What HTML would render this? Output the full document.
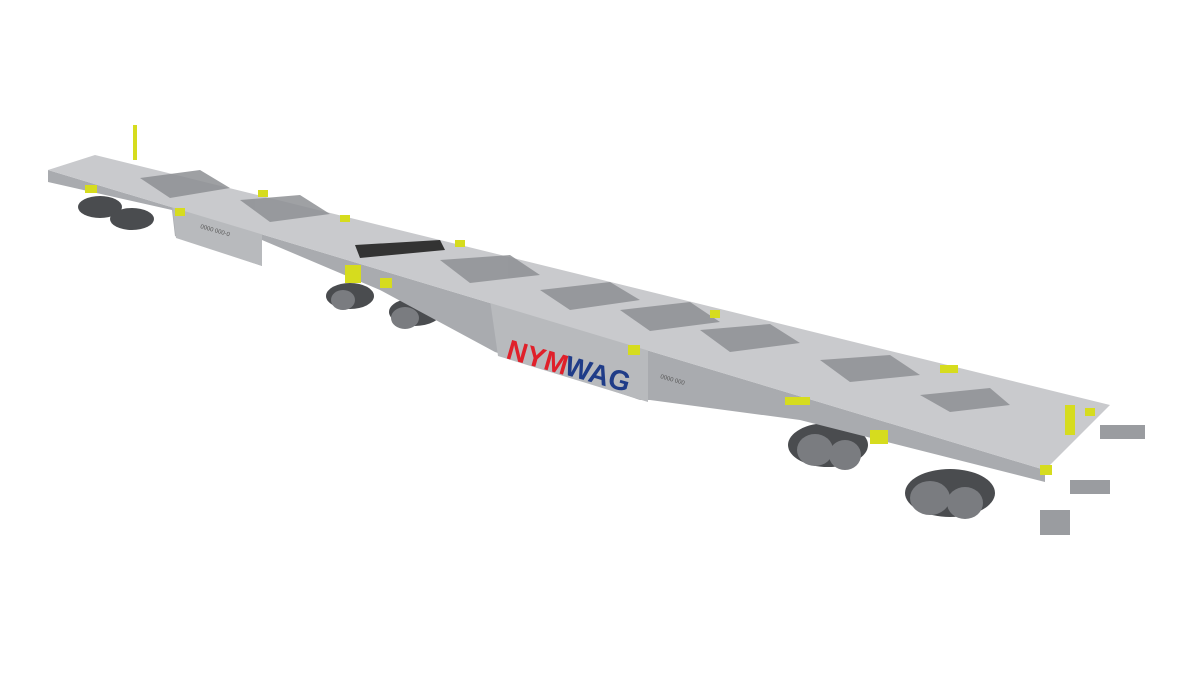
<!DOCTYPE html>
<html><head><meta charset="utf-8"><style>html,body{margin:0;padding:0;background:#fff;width:1200px;height:675px;overflow:hidden}</style></head>
<body>
<svg width="1200" height="675" viewBox="0 0 1200 675" xmlns="http://www.w3.org/2000/svg">
<rect width="1200" height="675" fill="#fff"/>
<!-- bogies -->
<g fill="#4a4c4f">
<ellipse cx="100" cy="207" rx="22" ry="11"/><ellipse cx="132" cy="219" rx="22" ry="11"/>
<ellipse cx="350" cy="296" rx="24" ry="13"/><ellipse cx="415" cy="312" rx="26" ry="14"/>
<ellipse cx="828" cy="445" rx="40" ry="22"/><ellipse cx="950" cy="493" rx="45" ry="24"/>
</g>
<g fill="#7a7c80">
<ellipse cx="815" cy="450" rx="18" ry="16"/><ellipse cx="845" cy="455" rx="16" ry="15"/>
<ellipse cx="930" cy="498" rx="20" ry="17"/><ellipse cx="965" cy="503" rx="18" ry="16"/>
<ellipse cx="405" cy="318" rx="14" ry="11"/><ellipse cx="343" cy="300" rx="12" ry="10"/>
</g>
<!-- side faces -->
<polygon points="48,170 1045,470 1045,482 800,420 650,400 640,400 495,352 380,290 262,240 262,266 175,236 172,210 48,182" fill="#a9abaf"/>
<polygon points="490,300 648,348 648,402 498,356" fill="#b8babd"/>
<polygon points="172,205 262,233 262,266 176,238" fill="#b8babd"/>
<!-- deck -->
<polygon points="48,170 95,155 1110,405 1045,470" fill="#c9cacd"/>
<!-- openings -->
<g fill="#8e9094" opacity="0.85">
<polygon points="140,178 200,170 230,188 170,198"/>
<polygon points="240,200 300,195 330,214 270,222"/>
<polygon points="440,260 510,255 540,275 470,283"/>
<polygon points="540,290 610,282 640,300 570,310"/>
<polygon points="620,310 690,302 720,322 650,331"/>
<polygon points="700,330 770,324 800,343 730,352"/>
<polygon points="820,360 890,355 920,375 850,382"/>
<polygon points="920,395 990,388 1010,405 950,412"/>
</g>
<rect x="0" y="0" width="0" height="0"/>
<polygon points="355,245 440,240 445,250 360,258" fill="#333"/>
<!-- yellow parts -->
<g fill="#d6dc1e">
<rect x="85" y="185" width="12" height="8"/><rect x="175" y="208" width="10" height="8"/>
<rect x="258" y="190" width="10" height="7"/><rect x="340" y="215" width="10" height="7"/>
<rect x="345" y="265" width="16" height="18"/><rect x="380" y="278" width="12" height="10"/>
<rect x="455" y="240" width="10" height="7"/><rect x="628" y="345" width="12" height="10"/>
<rect x="710" y="310" width="10" height="8"/><rect x="870" y="430" width="18" height="14"/>
<rect x="940" y="365" width="18" height="8"/><rect x="1085" y="408" width="10" height="8"/>
<rect x="1040" y="465" width="12" height="10"/><rect x="1065" y="405" width="10" height="30"/>
<rect x="133" y="125" width="4" height="35"/><rect x="785" y="397" width="25" height="8"/>
</g>
<!-- buffers -->
<g fill="#9a9ca0"><rect x="1100" y="425" width="45" height="14"/><rect x="1070" y="480" width="40" height="14"/>
<rect x="1040" y="510" width="30" height="25"/></g>
<!-- logo -->
<text x="505" y="358" font-family="Liberation Sans, sans-serif" font-weight="bold" font-size="28" fill="#e0202a" transform="rotate(16 505 358)">NYM</text>
<text x="563" y="374" font-family="Liberation Sans, sans-serif" font-weight="bold" font-size="28" fill="#1f3c88" transform="rotate(16 563 374)">WAG</text>
<text x="200" y="228" font-family="Liberation Sans, sans-serif" font-size="6" fill="#555" transform="rotate(16 200 228)">0000 000-0</text>
<text x="660" y="378" font-family="Liberation Sans, sans-serif" font-size="6" fill="#555" transform="rotate(16 660 378)">0000 000</text>
</svg>
</body></html>
